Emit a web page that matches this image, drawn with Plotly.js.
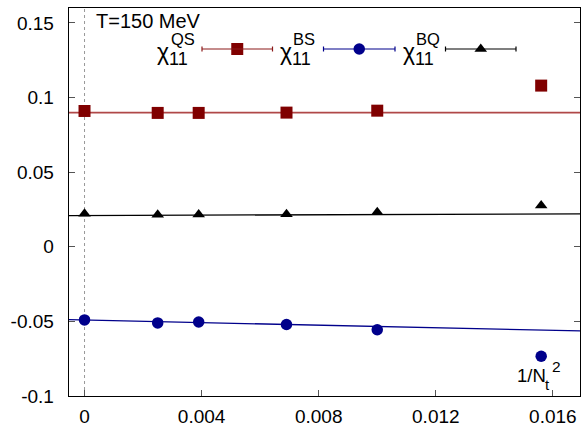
<!DOCTYPE html>
<html>
<head>
<meta charset="utf-8">
<script src="https://cdn.plot.ly/plotly-3.0.1.min.js"></script>
<style>html,body{margin:0;padding:0;background:#fff;}#chart{width:582px;height:428px;}</style>
</head>
<body>
<div id="chart"></div>
<script>
// ---- data ----
var invNt2 = [0, 0.0025, 0.0039, 0.0069, 0.0100, 0.0156];
var chiQS = [0.0910, 0.0897, 0.0897, 0.0899, 0.0912, 0.1080];
var chiBQ = [0.0222, 0.0215, 0.0216, 0.0218, 0.0232, 0.0277];
var chiBS = [-0.0490, -0.0510, -0.0504, -0.0521, -0.0556, -0.0734];
// linear continuum fits: intercept, slope
var fitQS = [0.0899, 0.0];
var fitBQ = [0.0209, 0.07];
var fitBS = [-0.0491, -0.43];
var xTicks = [0, 0.004, 0.008, 0.012, 0.016];
var xTickText = ["0", "0.004", "0.008", "0.012", "0.016"];
var yTicks = [-0.1, -0.05, 0, 0.05, 0.1, 0.15];
var yTickText = ["-0.1", "-0.05", "0", "0.05", "0.1", "0.15"];
var seriesNames = ["QS", "BS", "BQ"];
var titleText = "T=150 MeV";

// ---- styling / layout ----
var xRange = [-0.00053, 0.016926];
var yRange = [-0.1, 0.16];
var cQS = "#800000", cQSfit = "#b04848", cBS = "#00008b", cBQ = "#000000";
var FONT = "Liberation Sans, Arial, Helvetica, sans-serif";
var L = 69, R = 2, T = 8, B = 32, W = 582, H = 428;
function px(x) { return (x - L) / (W - L - R); }
function py(y) { return (H - B - y) / (H - T - B); }
function txt(t, x, y, size) {
  return {xref: "paper", yref: "paper", x: px(x), y: py(y), xanchor: "left", yanchor: "middle",
    text: t, showarrow: false, borderpad: 0, font: {family: FONT, size: size, color: "#000"}};
}

function fitLine(p, color, width) {
  return {x: xRange, y: xRange.map(function (v) { return p[0] + p[1] * v; }),
    mode: "lines", line: {color: color, width: width}, hoverinfo: "skip", showlegend: false};
}

var traces = [
  fitLine(fitQS, cQSfit, 1.6),
  fitLine(fitBQ, cBQ, 1.3),
  fitLine(fitBS, cBS, 1.3),
  {x: invNt2, y: chiQS, mode: "markers", marker: {symbol: "square", size: 12, color: cQS}, showlegend: false},
  {x: invNt2, y: chiBS, mode: "markers", marker: {symbol: "circle", size: 11.5, color: cBS}, showlegend: false},
  {x: invNt2, y: chiBQ, mode: "markers", marker: {symbol: "triangle-up", size: 11, color: cBQ}, showlegend: false}
];

// custom gnuplot-style key: label, then line sample with end caps and a marker in the middle
var keyY = 49;
var keyItems = [
  {name: seriesNames[0], lx: 156, x0: 202, x1: 272.5, color: cQS, lineColor: "#8b1a1a", symbol: "square", size: 12},
  {name: seriesNames[1], lx: 278.5, x0: 323.5, x1: 395, color: cBS, lineColor: cBS, symbol: "circle", size: 11.5},
  {name: seriesNames[2], lx: 401.5, x0: 445.5, x1: 516, color: cBQ, lineColor: cBQ, symbol: "triangle-up", size: 11}
];
var shapes = [{type: "line", xref: "x", yref: "paper", x0: 0, x1: 0, y0: 0, y1: 1,
  line: {color: "#999", width: 1, dash: "dot"}, layer: "below"}];
var annotations = [txt(titleText, 95, 21, 20)];
keyItems.forEach(function (k) {
  shapes.push({type: "line", xref: "paper", yref: "paper", x0: px(k.x0), x1: px(k.x1), y0: py(keyY), y1: py(keyY),
    line: {color: k.lineColor, width: 1.2}});
  [k.x0, k.x1].forEach(function (xc) {
    shapes.push({type: "line", xref: "paper", yref: "paper", x0: px(xc), x1: px(xc), y0: py(keyY - 2.5), y1: py(keyY + 2.5),
      line: {color: k.lineColor, width: 1.2}});
  });
  traces.push({x: [(k.x0 + k.x1) / 2], y: [keyY], xaxis: "x2", yaxis: "y2", mode: "markers",
    marker: {symbol: k.symbol, size: k.size, color: k.color}, showlegend: false, hoverinfo: "skip", cliponaxis: false});
  annotations.push(txt("χ<sub><span style='font-size:18px'>11</span></sub>", k.lx, 54, 23));
  annotations.push(txt(k.name, k.lx + 13.5, 38.5, 16.5));
});
annotations.push(txt("1/N", 516, 375, 18.5));
annotations.push(txt("t", 543.5, 384, 15));
annotations.push(txt("2", 551, 366, 15.5));

var layout = {
  width: W, height: H, margin: {l: L, r: R, t: T, b: B, pad: 0},
  paper_bgcolor: "#fff", plot_bgcolor: "#fff", showlegend: false,
  font: {family: FONT, size: 19, color: "#000"},
  xaxis: {range: xRange, tickmode: "array", tickvals: xTicks, ticktext: xTickText,
    ticks: "inside", ticklen: 6, tickcolor: "#555", tickwidth: 1, showgrid: false, zeroline: false,
    showline: true, linecolor: "#000", linewidth: 1.3, mirror: true, ticklabelstandoff: 3},
  yaxis: {range: yRange, tickmode: "array", tickvals: yTicks, ticktext: yTickText,
    ticks: "inside", ticklen: 6, tickcolor: "#555", tickwidth: 1, showgrid: false, zeroline: false,
    showline: true, linecolor: "#000", linewidth: 1.3, mirror: "ticks", ticklabelstandoff: 10},
  xaxis2: {overlaying: "x", range: [L, W - R], visible: false, fixedrange: true},
  yaxis2: {overlaying: "y", range: [H - B, T], visible: false, fixedrange: true},
  shapes: shapes, annotations: annotations
};
Plotly.newPlot("chart", traces, layout, {staticPlot: true, displayModeBar: false});
</script>
</body>
</html>
